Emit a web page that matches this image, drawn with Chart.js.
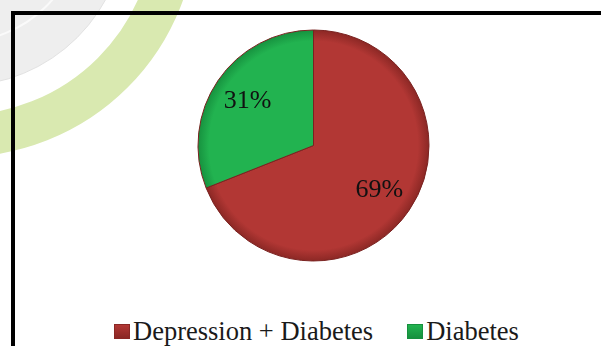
<!DOCTYPE html>
<html>
<head>
<meta charset="utf-8">
<script src="https://cdn.jsdelivr.net/npm/chart.js@4.4.1/dist/chart.umd.min.js"></script>
<style>
  html, body { margin: 0; padding: 0; background: #fff; }
  body { width: 601px; height: 346px; position: relative; overflow: hidden; font-family: "Liberation Serif", "Times New Roman", serif; }
  #mark { position: absolute; left: 0; top: 0; }
  #frame { position: absolute; left: 11px; top: 11px; width: 600px; height: 350px; border-top: 4px solid #000; border-left: 4px solid #000; }
  #wrap { position: absolute; left: 0; top: 0; width: 601px; height: 300px; }
  #legend { position: absolute; left: 114px; top: 316px; height: 30px; display: flex; align-items: center; font-size: 26.5px; line-height: 30px; color: #1a1a1a; white-space: nowrap; }
  #legend .item { display: flex; align-items: center; margin-right: 34px; }
  #legend .box { width: 16px; height: 15px; margin-right: 3px; box-sizing: border-box; }
</style>
</head>
<body>
<svg id="mark" width="601" height="346">
  <circle cx="-40" cy="-80" r="166" fill="#eeeeee" stroke="#e2e2e2" stroke-width="1"/>
  <circle cx="-40" cy="-80" r="122" fill="none" stroke="#fafafa" stroke-width="2"/>
  <circle cx="-40" cy="-80" r="216" fill="none" stroke="#d9e9b0" stroke-width="42"/>
</svg>
<div id="frame"></div>
<div id="wrap"><canvas id="pieChart"></canvas></div>
<div id="legend"></div>

<script>
const categories = ["Depression + Diabetes", "Diabetes"];
const shares = [69, 31];
const baseColors = ["#b23734", "#22b350"];
const edgeColors = ["#8a2724", "#16903e"];

// radial shading so each slice gets a darker rim
function sliceFill(context) {
  const chart = context.chart;
  const area = chart.chartArea;
  if (!area) return baseColors[context.dataIndex];
  const cx = (area.left + area.right) / 2;
  const cy = (area.top + area.bottom) / 2;
  const r = Math.min(area.width, area.height) / 2;
  const g = chart.ctx.createRadialGradient(cx, cy, 0, cx, cy, r);
  const i = context.dataIndex;
  g.addColorStop(0, baseColors[i]);
  g.addColorStop(0.9, baseColors[i]);
  g.addColorStop(1, edgeColors[i]);
  return g;
}

const sliceLabels = {
  id: "sliceLabels",
  afterDatasetsDraw(chart) {
    const ctx = chart.ctx;
    const meta = chart.getDatasetMeta(0);
    ctx.save();
    ctx.font = '26px "Liberation Serif"';
    ctx.fillStyle = "#111";
    ctx.textAlign = "center";
    ctx.textBaseline = "middle";
    meta.data.forEach((arc, i) => {
      const p = arc.getProps(["x", "y", "startAngle", "endAngle", "outerRadius"], true);
      const mid = (p.startAngle + p.endAngle) / 2;
      const r = p.outerRadius * 0.69;
      ctx.fillText(shares[i] + "%", p.x + Math.cos(mid) * r, p.y + Math.sin(mid) * r);
    });
    ctx.restore();
  }
};

const ctx = document.getElementById("pieChart").getContext("2d");

const pieChart = new Chart(ctx, {
  type: "pie",
  data: {
    labels: categories,
    datasets: [
      {
        data: shares,
        backgroundColor: sliceFill,
        borderColor: "#7a2220",
        borderWidth: 1,
      },
    ],
  },
  options: {
    responsive: true,
    maintainAspectRatio: false,
    animation: false,
    layout: {
      padding: { left: 26, right: 0, top: 29.5, bottom: 38.5 },
    },
    plugins: {
      legend: { display: false },
      tooltip: { enabled: false },
    },
  },
  plugins: [sliceLabels],
});

// legend below the pie
const legend = document.getElementById("legend");
categories.forEach((name, i) => {
  const item = document.createElement("div");
  item.className = "item";
  const box = document.createElement("span");
  box.className = "box";
  box.style.background = "linear-gradient(" + baseColors[i] + ", " + edgeColors[i] + ")";
  box.style.border = "1px solid " + edgeColors[i];
  const text = document.createElement("span");
  text.textContent = name;
  item.appendChild(box);
  item.appendChild(text);
  legend.appendChild(item);
});
</script>
</body>
</html>
